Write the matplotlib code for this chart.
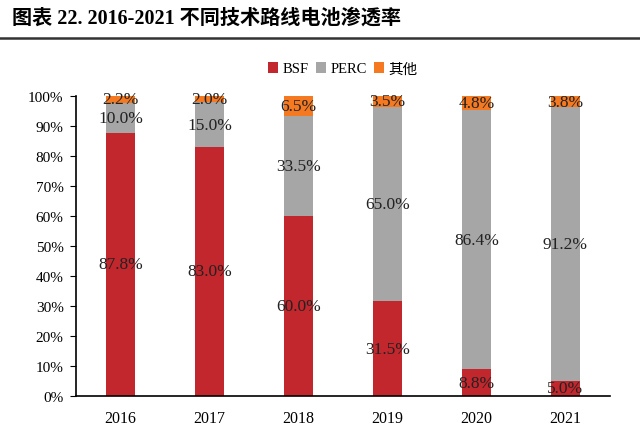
import matplotlib.pyplot as plt
from matplotlib.lines import Line2D
from matplotlib.ticker import PercentFormatter
import numpy as np

years = ["2016", "2017", "2018", "2019", "2020", "2021"]
bsf = [87.8, 83.0, 60.0, 31.5, 8.8, 5.0]
perc = [10.0, 15.0, 33.5, 65.0, 86.4, 91.2]
other = [2.2, 2.0, 6.5, 3.5, 4.8, 3.8]

series = [("BSF", bsf, "#C1272D"), ("PERC", perc, "#A6A6A6"), ("其他", other, "#F47920")]

plt.rcParams['font.family'] = ['Liberation Serif', 'Noto Sans CJK SC']

fig = plt.figure(figsize=(6.4, 4.39), dpi=100)
ax = fig.add_axes([0.119, 0.096, 0.834, 0.683])

x = np.arange(len(years))
bottom = np.zeros(len(years))
for name, vals, color in series:
    vals = np.array(vals) / 100
    ax.bar(x, vals, width=0.33, bottom=bottom, color=color, label=name)
    for xi, b, v in zip(x, bottom, vals):
        ax.text(xi, b + v / 2, f"{v * 100:.1f}%", ha='center', va='center',
                fontsize=12.5, color='#222222')
    bottom += vals

ax.set_xlim(-0.5, 5.5)
ax.set_ylim(0, 1)
ax.set_yticks(np.arange(0, 1.01, 0.1))
ax.yaxis.set_major_formatter(PercentFormatter(1.0, decimals=0))
ax.set_xticks(x)
ax.set_xticklabels(years)
ax.tick_params(axis='x', length=0, pad=10, labelsize=11.5)
ax.tick_params(axis='y', length=4, labelsize=11, direction='out', pad=5)
ax.spines['top'].set_visible(False)
ax.spines['right'].set_visible(False)
ax.spines['left'].set_linewidth(1.2)
ax.spines['bottom'].set_linewidth(1.2)

ax.legend(loc='lower center', bbox_to_anchor=(0.5, 1.025), ncol=3, frameon=False,
          fontsize=10.5, handlelength=0.7, handleheight=0.8, handletextpad=0.3,
          columnspacing=0.5)

fig.text(0.019, 0.958, "图表 22. 2016-2021 不同技术路线电池渗透率", fontsize=14.5,
         fontweight='bold', va='center')
fig.add_artist(Line2D([0, 1], [0.911, 0.911], color='#333333', linewidth=1.8))

fig.savefig("out.png", dpi=100)
